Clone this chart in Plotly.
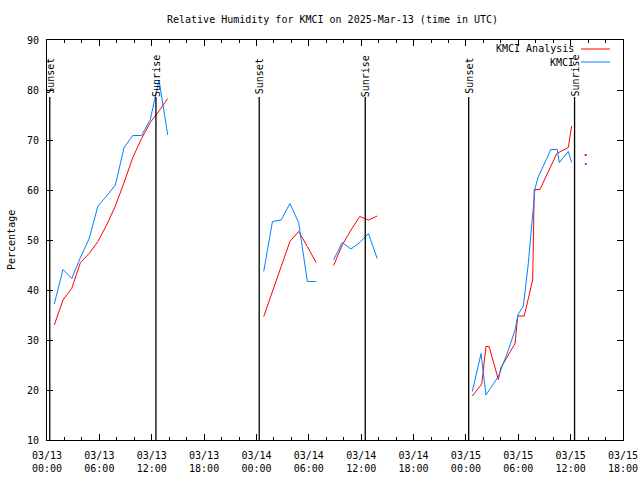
import plotly.graph_objects as go
from datetime import datetime, timedelta

# ---------------- data ----------------
base = datetime(2025, 3, 13, 0, 0)

# Analysis (red) times and values; None breaks the line
analysis_times = [
    "2025-03-13 00:50", "2025-03-13 01:50", "2025-03-13 02:50", "2025-03-13 03:50",
    "2025-03-13 04:50", "2025-03-13 05:50", "2025-03-13 06:50", "2025-03-13 07:50",
    "2025-03-13 08:50", "2025-03-13 09:50", "2025-03-13 10:50", "2025-03-13 11:50",
    "2025-03-13 12:50", "2025-03-13 13:50", "2025-03-13 16:00",
    "2025-03-14 00:50", "2025-03-14 01:50", "2025-03-14 02:50", "2025-03-14 03:50",
    "2025-03-14 04:50", "2025-03-14 05:50", "2025-03-14 06:50", "2025-03-14 07:50",
    "2025-03-14 08:50", "2025-03-14 09:50", "2025-03-14 10:50", "2025-03-14 11:50",
    "2025-03-14 12:50", "2025-03-14 13:50", "2025-03-14 18:00",
    "2025-03-15 00:44", "2025-03-15 01:49", "2025-03-15 02:18", "2025-03-15 02:39",
    "2025-03-15 03:43", "2025-03-15 04:01", "2025-03-15 05:38", "2025-03-15 05:56",
    "2025-03-15 06:41", "2025-03-15 07:09", "2025-03-15 07:39", "2025-03-15 07:50",
    "2025-03-15 08:29", "2025-03-15 10:25", "2025-03-15 11:10", "2025-03-15 11:44",
    "2025-03-15 12:07", "2025-03-15 13:00", "2025-03-15 13:44",
]
analysis_rh = [
    33.0, 38.0, 40.3, 45.5, 47.3, 49.7, 53.0, 56.8, 61.5, 66.5, 70.3, 73.5, 75.8, 78.3, None,
    34.7, 39.9, 44.7, 49.7, 51.7, 48.7, 45.5, None,
    44.9, 49.0, 52.0, 54.7, 54.0, 54.8, None,
    18.8, 21.2, 28.7, 28.7, 22.1, 24.5, 29.3, 34.8, 34.8, 38.0, 42.0, 60.1,
    60.1, 67.3, 68.0, 68.5, 72.8, None, 67.0,
]

# Observed (blue) times and values
obs_times = [
    "2025-03-13 00:50", "2025-03-13 01:50", "2025-03-13 02:50", "2025-03-13 03:50",
    "2025-03-13 04:50", "2025-03-13 05:50", "2025-03-13 06:50", "2025-03-13 07:50",
    "2025-03-13 08:50", "2025-03-13 09:50", "2025-03-13 10:50", "2025-03-13 11:50",
    "2025-03-13 12:50", "2025-03-13 13:50", "2025-03-13 16:00",
    "2025-03-14 00:50", "2025-03-14 01:50", "2025-03-14 02:50", "2025-03-14 03:50",
    "2025-03-14 04:50", "2025-03-14 05:50", "2025-03-14 06:50", "2025-03-14 07:50",
    "2025-03-14 08:50", "2025-03-14 09:50", "2025-03-14 10:50", "2025-03-14 11:50",
    "2025-03-14 12:50", "2025-03-14 13:50", "2025-03-14 18:00",
    "2025-03-15 00:44", "2025-03-15 01:44", "2025-03-15 02:18", "2025-03-15 03:43",
    "2025-03-15 04:52", "2025-03-15 05:38", "2025-03-15 06:00", "2025-03-15 06:35",
    "2025-03-15 07:09", "2025-03-15 07:32", "2025-03-15 07:55", "2025-03-15 08:18",
    "2025-03-15 08:41", "2025-03-15 09:16", "2025-03-15 09:43", "2025-03-15 10:28",
    "2025-03-15 10:42", "2025-03-15 11:44", "2025-03-15 12:07", "2025-03-15 13:00",
    "2025-03-15 13:44",
]
obs_rh = [
    37.2, 44.1, 42.3, 46.5, 50.3, 56.8, 58.8, 61.0, 68.5, 70.9, 70.9, 74.1, 82.0, 71.0, None,
    43.7, 53.7, 54.0, 57.3, 53.5, 41.7, 41.7, None,
    46.0, 49.5, 48.2, 49.5, 51.3, 46.3, None,
    19.7, 27.3, 19.0, 22.7, 28.0, 32.0, 35.2, 36.8, 45.3, 53.3, 60.3, 62.7,
    64.0, 66.3, 68.1, 68.1, 65.5, 67.7, 65.5, None, 65.2,
]

sun_times = ["2025-03-13 00:19", "2025-03-13 12:29", "2025-03-14 00:19",
             "2025-03-14 12:28", "2025-03-15 00:19", "2025-03-15 12:27"]
sun_labels = ["Sunset", "Sunrise", "Sunset", "Sunrise", "Sunset", "Sunrise"]

series_names = ["KMCI Analysis", "KMCI"]
series_colors = ["#ff0000", "#0080ff"]

title_text = "Relative Humidity for KMCI on 2025-Mar-13 (time in UTC)"
y_title = "Percentage"

# ---------------- figure ----------------
FONT = "DejaVu Sans Mono"
W, H = 640, 480
L, R, T, B = 47, 17, 40, 40
PW, PH = W - L - R, H - T - B


def px_x(px):
    return (px - L) / PW


def px_y(py):
    return (H - B - py) / PH


fig = go.Figure()


def add_series(times, vals, color):
    fig.add_trace(go.Scatter(x=times, y=vals, mode="lines",
                             line=dict(color=color, width=1),
                             connectgaps=False, showlegend=False, hoverinfo="skip"))
    # isolated points (no neighbours) drawn as dots
    iso_x, iso_y = [], []
    for i, v in enumerate(vals):
        if v is None:
            continue
        prev_none = i == 0 or vals[i - 1] is None
        next_none = i == len(vals) - 1 or vals[i + 1] is None
        if prev_none and next_none:
            iso_x.append(times[i])
            iso_y.append(v)
    if iso_x:
        fig.add_trace(go.Scatter(x=iso_x, y=iso_y, mode="markers",
                                 marker=dict(color=color, size=2, symbol="square"),
                                 showlegend=False, hoverinfo="skip"))


add_series(analysis_times, analysis_rh, series_colors[0])
add_series(obs_times, obs_rh, series_colors[1])

shapes = []
annotations = []
for t, lab in zip(sun_times, sun_labels):
    shapes.append(dict(type="line", xref="x", yref="y", x0=t, x1=t, y0=10, y1=78.6,
                       line=dict(color="black", width=1.3)))
    annotations.append(dict(x=t, y=82.8, xref="x", yref="y", text=lab, textangle=-90,
                            showarrow=False, xanchor="center", yanchor="middle",
                            font=dict(family=FONT, size=10, color="black")))

# legend (manual, gnuplot style)
for i, (name, col) in enumerate(zip(series_names, series_colors)):
    ly = 49 + i * 13
    annotations.append(dict(x=px_x(576), y=px_y(ly), xref="paper", yref="paper",
                            text=name, showarrow=False, xanchor="right", yanchor="middle",
                            font=dict(family=FONT, size=10, color="black")))
    shapes.append(dict(type="line", xref="paper", yref="paper",
                       x0=px_x(581), x1=px_x(610), y0=px_y(ly), y1=px_y(ly),
                       line=dict(color=col, width=1)))

annotations.append(dict(x=px_x(332), y=px_y(19), xref="paper", yref="paper",
                        text=title_text, showarrow=False, xanchor="center", yanchor="middle",
                        font=dict(family=FONT, size=10, color="black")))
annotations.append(dict(x=px_x(11), y=px_y(240), xref="paper", yref="paper",
                        text=y_title, showarrow=False, textangle=-90,
                        xanchor="center", yanchor="middle",
                        font=dict(family=FONT, size=10, color="black")))

fig.update_layout(
    width=W, height=H,
    margin=dict(l=L, r=R, t=T, b=B, pad=0, autoexpand=False),
    paper_bgcolor="white", plot_bgcolor="white",
    font=dict(family=FONT, size=10, color="black"),
    shapes=shapes, annotations=annotations,
    showlegend=False,
)

fig.update_xaxes(
    type="date", automargin=False,
    range=[base, base + timedelta(hours=66)],
    tickmode="linear", tick0=base, dtick=6 * 3600 * 1000,
    tickformat="%m/%d<br>%H:%M", ticklabelstandoff=6,
    ticks="inside", ticklen=6, tickcolor="black", tickwidth=1,
    minor=dict(dtick=2 * 3600 * 1000, ticks="inside", ticklen=3, tickcolor="black", showgrid=False),
    showline=True, linecolor="black", linewidth=1, mirror="allticks",
    showgrid=False, zeroline=False,
    tickfont=dict(family=FONT, size=10, color="black"),
)
fig.update_yaxes(
    automargin=False,
    range=[10, 90], tickmode="linear", tick0=10, dtick=10, ticklabelstandoff=5,
    ticks="inside", ticklen=6, tickcolor="black", tickwidth=1,
    showline=True, linecolor="black", linewidth=1, mirror="allticks",
    showgrid=False, zeroline=False,
    tickfont=dict(family=FONT, size=10, color="black"),
)

fig.write_html(
    "out.html",
    config={"displayModeBar": False, "staticPlot": True},
    post_script="document.body.style.margin='0';document.body.style.overflow='hidden';",
)
